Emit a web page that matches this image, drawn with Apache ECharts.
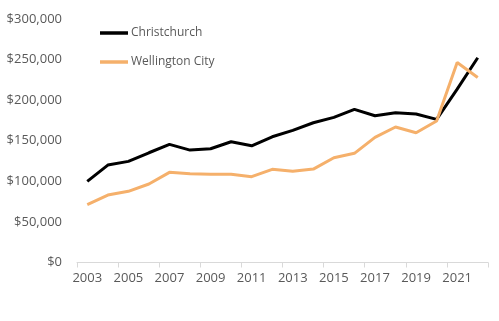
<!DOCTYPE html>
<html><head><meta charset="utf-8">
<script src="https://cdn.jsdelivr.net/npm/echarts@6/dist/echarts.min.js"></script>
<style>html,body{margin:0;padding:0;background:#fff}#c{width:499px;height:321px}</style>
</head><body><div id="c"></div>
<script>
const years = ['2003','2004','2005','2006','2007','2008','2009','2010','2011','2012','2013','2014','2015','2016','2017','2018','2019','2020','2021','2022'];
const christchurch = [100000,120000,124600,135200,145500,138500,140100,148800,143800,154900,162800,172200,178800,188600,180800,184500,182900,176300,213600,252200];
const wellington = [71200,83100,87700,96700,111100,109400,108600,108600,105700,114800,112300,115100,129100,134500,154200,166900,159900,174300,246500,228000];
const yTicks = [0,50000,100000,150000,200000,250000,300000];

const chart = echarts.init(document.getElementById('c'));
chart.setOption({
  animation:false,
  grid:{left:77,right:11,top:19,bottom:58.5,containLabel:false},
  legend:{
    orient:'vertical', left:95, top:21, itemGap:15,
    itemWidth:28, itemHeight:3.5, icon:'rect',
    textStyle:{fontFamily:'Open Sans', fontSize:12, color:'#595959', padding:[0,0,0,-2], lineHeight:14},
    data:['Christchurch','Wellington City']
  },
  xAxis:{
    type:'category', data:years, boundaryGap:true,
    axisLine:{lineStyle:{color:'#d9d9d9',width:1}},
    axisTick:{show:true,interval:1,length:5,lineStyle:{color:'#d9d9d9'}},
    axisLabel:{interval:1,color:'#595959',fontFamily:'Open Sans',fontSize:13,margin:9}
  },
  yAxis:{
    type:'value', min:yTicks[0], max:yTicks[yTicks.length-1], interval:50000,
    splitLine:{show:false}, axisLine:{show:false}, axisTick:{show:false},
    axisLabel:{color:'#595959',fontFamily:'Open Sans',fontSize:13,margin:15,
      formatter:v=>'$'+v.toLocaleString('en-US')}
  },
  series:[
    {name:'Christchurch',type:'line',data:christchurch,symbol:'none',
     lineStyle:{color:'#000000',width:3},itemStyle:{color:'#000000'}},
    {name:'Wellington City',type:'line',data:wellington,symbol:'none',
     lineStyle:{color:'#F5B06B',width:3},itemStyle:{color:'#F5B06B'}}
  ]
});
</script></body></html>
